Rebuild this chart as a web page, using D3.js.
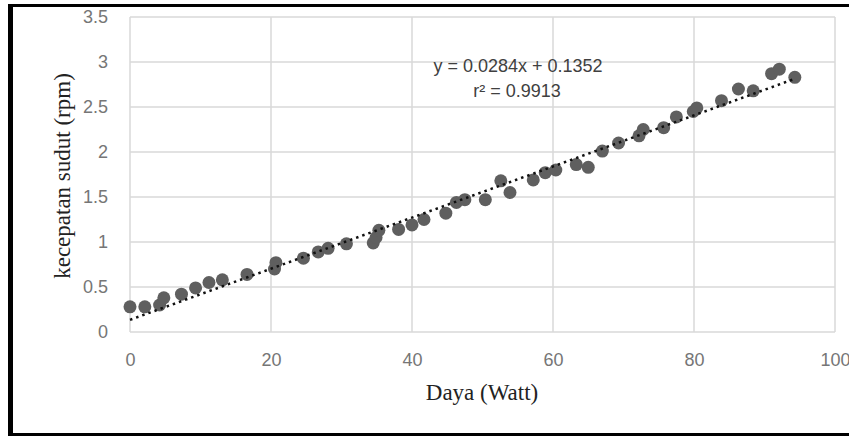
<!DOCTYPE html>
<html>
<head>
<meta charset="utf-8">
<script src="https://cdn.jsdelivr.net/npm/d3@7"></script>
<style>
  html, body { margin: 0; padding: 0; background: #fff; }
  svg { display: block; }
</style>
</head>
<body>
<svg></svg>
<script>
// measured points: daya (Watt) vs kecepatan sudut (rpm)
const dayaWatt = [0, 2.1, 4.2, 4.8, 7.3, 9.3, 11.2, 13.1, 16.6, 20.5, 20.7, 24.6, 26.7, 28.1, 30.7,
  34.5, 34.9, 35.3, 38.1, 40.0, 41.7, 44.8, 46.3, 47.5, 50.4, 52.6, 53.9, 57.2, 58.9, 60.4,
  63.3, 65.0, 67.0, 69.3, 72.2, 72.8, 75.7, 77.5, 79.9, 80.4, 83.9, 86.3, 88.4, 91.0, 92.1, 94.3]
const kecepatan = [0.28, 0.28, 0.30, 0.38, 0.42, 0.49, 0.55, 0.58, 0.64, 0.70, 0.77, 0.82, 0.89, 0.93, 0.98,
  0.99, 1.05, 1.13, 1.14, 1.19, 1.25, 1.32, 1.44, 1.47, 1.47, 1.68, 1.55, 1.69, 1.77, 1.80,
  1.86, 1.83, 2.01, 2.10, 2.18, 2.25, 2.27, 2.39, 2.45, 2.49, 2.57, 2.70, 2.68, 2.87, 2.92, 2.83]

const xTicks = [0, 20, 40, 60, 80, 100]
const yTicks = [0, 0.5, 1, 1.5, 2, 2.5, 3, 3.5]

// linear trendline from the chart
const slope = 0.0284
const intercept = 0.1352
const rSquared = 0.9913
const trendRange = [0, 94.3]

const xTitle = 'Daya (Watt)'
const yTitle = 'kecepatan sudut (rpm)'

const width = 849
const height = 436
const plotLeft = 130, plotRight = 835, plotTop = 17, plotBottom = 332
const gridColor = '#d9d9d9'
const sans = '"Liberation Sans", Arial, sans-serif'
const serif = '"Liberation Serif", "Times New Roman", serif'

const svg = d3.select('svg')
  .attr('width', width)
  .attr('height', height)

const x = d3.scaleLinear().domain([0, 100]).range([plotLeft, plotRight])
const y = d3.scaleLinear().domain([0, 3.5]).range([plotBottom, plotTop])

drawFrame()
drawGrid()
drawAxes()
drawPoints()
drawTrend()
drawLabels()

function drawFrame() {
  // black box around the figure (right side is cut off)
  svg.append('line').attr('x1', 8).attr('x2', width).attr('y1', 5.5).attr('y2', 5.5)
    .attr('stroke', '#000').attr('stroke-width', 3)
  svg.append('line').attr('x1', 10.5).attr('x2', 10.5).attr('y1', 4).attr('y2', height)
    .attr('stroke', '#000').attr('stroke-width', 5)
  svg.append('line').attr('x1', 8).attr('x2', width).attr('y1', 434.5).attr('y2', 434.5)
    .attr('stroke', '#000').attr('stroke-width', 3)
}

function drawGrid() {
  const g = svg.append('g')
  g.selectAll('line.h')
    .data(yTicks)
    .enter()
      .append('line')
      .attr('class', 'h')
      .attr('x1', plotLeft).attr('x2', plotRight)
      .attr('y1', d => y(d)).attr('y2', d => y(d))
      .attr('stroke', gridColor).attr('stroke-width', 1.5)
  g.selectAll('line.v')
    .data(xTicks)
    .enter()
      .append('line')
      .attr('class', 'v')
      .attr('y1', plotTop).attr('y2', plotBottom)
      .attr('x1', d => x(d)).attr('x2', d => x(d))
      .attr('stroke', gridColor).attr('stroke-width', 1.5)
}

function drawAxes() {
  const xAxis = svg.append('g')
    .attr('transform', `translate(0,${plotBottom})`)
    .call(d3.axisBottom(x).tickValues(xTicks).tickSize(0).tickPadding(21).tickFormat(d3.format('d')))
  const yAxis = svg.append('g')
    .attr('transform', `translate(${plotLeft},0)`)
    .call(d3.axisLeft(y).tickValues(yTicks).tickSize(0).tickPadding(22).tickFormat(d => String(d)))

  for (const a of [xAxis, yAxis]) {
    a.select('.domain').remove()
    a.selectAll('text')
      .attr('fill', '#767676')
      .style('font-family', sans)
      .style('font-size', '18px')
  }
}

function drawPoints() {
  svg.append('g').selectAll('circle')
    .data(d3.zip(dayaWatt, kecepatan))
    .enter()
      .append('circle')
      .attr('cx', d => x(d[0]))
      .attr('cy', d => y(d[1]))
      .attr('r', 6.5)
      .attr('fill', '#5f5f5f')
}

function drawTrend() {
  svg.append('line')
    .attr('x1', x(trendRange[0])).attr('y1', y(slope * trendRange[0] + intercept))
    .attr('x2', x(trendRange[1])).attr('y2', y(slope * trendRange[1] + intercept))
    .attr('stroke', '#111')
    .attr('stroke-width', 2.5)
    .attr('stroke-dasharray', '2.5,4')
}

function drawLabels() {
  svg.append('text')
    .attr('x', 518).attr('y', 72)
    .attr('text-anchor', 'middle')
    .attr('fill', '#404040')
    .style('font-family', sans).style('font-size', '18px')
    .text(`y = ${slope}x + ${intercept}`)
  svg.append('text')
    .attr('x', 517).attr('y', 97)
    .attr('text-anchor', 'middle')
    .attr('fill', '#404040')
    .style('font-family', sans).style('font-size', '18px')
    .text(`r² = ${rSquared}`)

  svg.append('text')
    .attr('x', 482).attr('y', 400)
    .attr('text-anchor', 'middle')
    .attr('fill', '#222')
    .style('font-family', serif).style('font-size', '23px')
    .text(xTitle)
  svg.append('text')
    .attr('transform', 'translate(70,176) rotate(-90)')
    .attr('text-anchor', 'middle')
    .attr('fill', '#222')
    .style('font-family', serif).style('font-size', '23px')
    .text(yTitle)
}
</script>
</body>
</html>
